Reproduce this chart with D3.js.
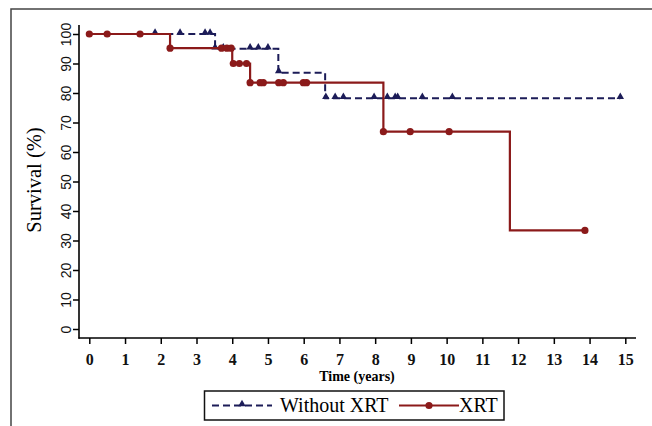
<!DOCTYPE html>
<html lang="en">
<head>
<meta charset="utf-8">
<title>survival curves</title>
<script src="https://d3js.org/d3.v7.min.js"></script>
<style>
  body { margin: 0; background: #fff; }
  svg { display: block; }
</style>
</head>
<body>
<script>
// Kaplan-Meier steps
const noXrtStepTime = [0, 3.52, 5.29, 6.6];
const noXrtStepSurv = [100, 95.0, 86.9, 78.2];
const noXrtEnd = 14.86;
const noXrtCensor = [1.84, 2.54, 3.24, 3.38, 3.52, 3.75, 4.5, 4.73, 5.0, 5.3,
                     6.62, 6.88, 7.11, 7.97, 8.34, 8.56, 8.63, 9.32, 10.16, 14.86];

const xrtStepTime = [0, 2.26, 4.0, 4.5, 8.23, 11.77];
const xrtStepSurv = [100, 95.2, 90.0, 83.5, 66.9, 33.4];
const xrtEnd = 13.87;
const xrtCensor = [0, 0.5, 1.42, 2.26, 3.7, 3.85, 3.97, 4.03, 4.2, 4.4, 4.5, 4.78, 4.87,
                   5.3, 5.43, 5.99, 6.08, 8.23, 8.98, 10.07, 13.87];

const xTicks = d3.range(0, 16);
const yTicks = d3.range(0, 101, 10);

const W = 652, H = 426;
const navy = "#1c1c58", maroon = "#8b1a1a";

const svg = d3.select("body").append("svg").attr("width", W).attr("height", H);

// outer frame (top and left edge only visible)
svg.append("path")
  .attr("d", "M11,426 L11,9 L652,9")
  .attr("fill", "none").attr("stroke", "#444").attr("stroke-width", 1.5);

const x = d3.scaleLinear().domain([0, 15]).range([89.3, 625.3]);
const y = d3.scaleLinear().domain([0, 100]).range([329, 34]);

// axes
const xAxis = svg.append("g").attr("transform", "translate(0,338)")
  .call(d3.axisBottom(x).tickValues(xTicks).tickSize(6).tickSizeOuter(0));
xAxis.select(".domain").remove();
xAxis.append("line").attr("x1", 78.5).attr("x2", 636).attr("stroke", "#000").attr("stroke-width", 1.6);
xAxis.selectAll(".tick line").attr("stroke-width", 1.5);
xAxis.selectAll(".tick text")
  .attr("y", 26.5).attr("dy", 0)
  .attr("font-family", "Liberation Serif").attr("font-weight", "bold")
  .attr("font-size", 16).attr("fill", "#111");

const yAxis = svg.append("g").attr("transform", "translate(79,0)")
  .call(d3.axisLeft(y).tickValues(yTicks).tickSize(6).tickSizeOuter(0));
yAxis.select(".domain").remove();
yAxis.append("line").attr("y1", 25).attr("y2", 338.8).attr("stroke", "#000").attr("stroke-width", 1.6);
yAxis.selectAll(".tick line").attr("stroke-width", 1.5);
yAxis.selectAll(".tick text")
  .attr("transform", "rotate(-90)")
  .attr("x", 0).attr("y", -8).attr("dy", 0)
  .attr("text-anchor", "middle")
  .attr("font-family", "Liberation Sans").attr("font-size", 14).attr("fill", "#111");

svg.append("text")
  .attr("transform", "translate(41,180) rotate(-90)")
  .attr("text-anchor", "middle")
  .attr("font-family", "Liberation Serif").attr("font-size", 20.5)
  .text("Survival (%)");

svg.append("text")
  .attr("x", 357).attr("y", 380.5)
  .attr("text-anchor", "middle")
  .attr("font-family", "Liberation Serif").attr("font-weight", "bold").attr("font-size", 14)
  .text("Time (years)");

// survival value at time t from a step list
function survAt(times, surv, t) {
  let v = surv[0];
  times.forEach((s, i) => { if (s <= t) v = surv[i]; });
  return v;
}

const step = d3.line().x(d => x(d[0])).y(d => y(d[1])).curve(d3.curveStepAfter);

function stepPoints(times, surv, end) {
  const pts = times.map((t, i) => [t, surv[i]]);
  pts.push([end, surv[surv.length - 1]]);
  return pts;
}

// Without XRT
svg.append("path")
  .datum(stepPoints(noXrtStepTime, noXrtStepSurv, noXrtEnd))
  .attr("d", step)
  .attr("fill", "none").attr("stroke", navy).attr("stroke-width", 2)
  .attr("stroke-dasharray", "7,4");

const tri = d3.symbol().type(d3.symbolTriangle).size(24);
svg.append("g").selectAll("path")
  .data(noXrtCensor)
  .join("path")
  .attr("d", tri)
  .attr("transform", d => `translate(${x(d)},${y(survAt(noXrtStepTime, noXrtStepSurv, d)) - 1.5})`)
  .attr("fill", navy);

// XRT
svg.append("path")
  .datum(stepPoints(xrtStepTime, xrtStepSurv, xrtEnd))
  .attr("d", step)
  .attr("fill", "none").attr("stroke", maroon).attr("stroke-width", 2.2);

svg.append("g").selectAll("circle")
  .data(xrtCensor)
  .join("circle")
  .attr("cx", d => x(d))
  .attr("cy", d => y(survAt(xrtStepTime, xrtStepSurv, d)))
  .attr("r", 3.6)
  .attr("fill", maroon);

// legend
const lg = svg.append("g");
lg.append("rect")
  .attr("x", 204.5).attr("y", 391).attr("width", 299.5).attr("height", 29)
  .attr("fill", "#fff").attr("stroke", "#111").attr("stroke-width", 1.5);
lg.append("line")
  .attr("x1", 212).attr("x2", 272).attr("y1", 405.5).attr("y2", 405.5)
  .attr("stroke", navy).attr("stroke-width", 2).attr("stroke-dasharray", "7,4");
lg.append("path").attr("d", tri).attr("transform", "translate(242,404)").attr("fill", navy);
lg.append("text").attr("x", 280).attr("y", 412)
  .attr("font-family", "Liberation Serif").attr("font-size", 20)
  .text("Without XRT");
lg.append("line")
  .attr("x1", 399).attr("x2", 459).attr("y1", 405.5).attr("y2", 405.5)
  .attr("stroke", maroon).attr("stroke-width", 2.2);
lg.append("circle").attr("cx", 429).attr("cy", 405.5).attr("r", 3.6).attr("fill", maroon);
lg.append("text").attr("x", 459).attr("y", 412)
  .attr("font-family", "Liberation Serif").attr("font-size", 20)
  .text("XRT");
</script>
</body>
</html>
